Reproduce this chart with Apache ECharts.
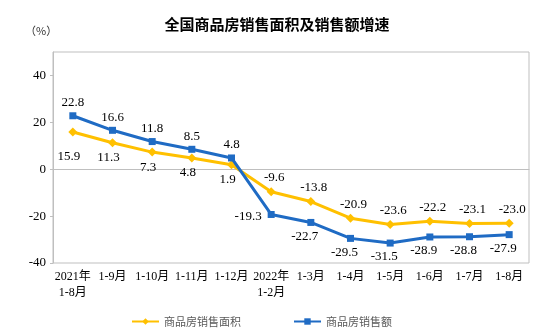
<!DOCTYPE html>
<html><head><meta charset="utf-8">
<script src="https://cdn.jsdelivr.net/npm/echarts@6/dist/echarts.min.js"></script>
<style>html,body{margin:0;padding:0;background:#fff}#c{width:554px;height:336px}</style>
</head><body><div id="c"></div>
<script>
var categories = ['2021年\n1-8月','1-9月','1-10月','1-11月','1-12月','2022年\n1-2月','1-3月','1-4月','1-5月','1-6月','1-7月','1-8月'];
var areaGrowth = [15.9, 11.3, 7.3, 4.8, 1.9, -9.6, -13.8, -20.9, -23.6, -22.2, -23.1, -23.0];
var salesGrowth = [22.8, 16.6, 11.8, 8.5, 4.8, -19.3, -22.7, -29.5, -31.5, -28.9, -28.8, -27.9];
var yTicks = [-40, -20, 0, 20, 40];
var seriesNames = ['商品房销售面积', '商品房销售额'];

var serif = '"Liberation Serif", "Noto Sans CJK SC", serif';
var labelBase = {show: true, fontFamily: serif, fontSize: 13, color: '#000', formatter: function(p){return p.value.toFixed(1);}};

var areaData = areaGrowth.map(function(v, i){
  var lbl = i < 5 ? {position: 'bottom', distance: 4, offset: [-4, i === 0 ? 10 : 0]} : {position: 'top', distance: 3, offset: [3, 0]};
  return {value: v, label: lbl};
});
var salesData = salesGrowth.map(function(v, i){
  var lbl;
  if (i < 5) lbl = {position: 'top', distance: 3};
  else if (i === 5) lbl = {position: 'left', distance: 6, offset: [0, 2]};
  else lbl = {position: 'bottom', distance: 4, offset: [-6, 0]};
  return {value: v, label: lbl};
});

var chart = echarts.init(document.getElementById('c'), null, {renderer: 'canvas'});
chart.setOption({
  animation: false,
  title: {text: '全国商品房销售面积及销售额增速', left: 'center', top: 12,
    textStyle: {fontFamily: '"Noto Sans CJK SC", sans-serif', fontSize: 15, fontWeight: 'bold', color: '#000'}},
  graphic: [{type: 'text', left: 25, top: 25, style: {text: '（%）', font: '11px "Noto Sans CJK SC", sans-serif', fill: '#333'}}],
  legend: {data: seriesNames, left: 126, top: 311, itemWidth: 27, itemHeight: 8, itemGap: 52,
    textStyle: {fontFamily: '"Noto Sans CJK SC", sans-serif', fontSize: 11, color: '#595959'}},
  grid: {left: 53, right: 25, top: 52, bottom: 73, show: true, borderColor: '#BFBFBF', borderWidth: 1},
  xAxis: {type: 'category', data: categories, boundaryGap: true,
    axisLine: {lineStyle: {color: '#BFBFBF'}},
    axisTick: {inside: true, length: 4, lineStyle: {color: '#BFBFBF'}},
    axisLabel: {interval: 0, fontFamily: serif, fontSize: 12, color: '#000', margin: 6, lineHeight: 16}},
  yAxis: {type: 'value', min: yTicks[0], max: 50, interval: 20,
    axisLine: {show: true, lineStyle: {color: '#BFBFBF'}},
    axisTick: {show: true, length: 3, lineStyle: {color: '#BFBFBF'}},
    splitLine: {show: false},
    axisLabel: {showMaxLabel: false, fontFamily: serif, fontSize: 13, color: '#000', margin: 7,
      formatter: function(v){ return yTicks.indexOf(v) >= 0 ? String(v) : ''; }}},
  series: [
    {name: seriesNames[0], type: 'line', data: areaData, symbol: 'diamond', symbolSize: 9,
      itemStyle: {color: '#FFC000'}, lineStyle: {width: 3, color: '#FFC000'}, label: labelBase, z: 2},
    {name: seriesNames[1], type: 'line', data: salesData, symbol: 'rect', symbolSize: 7,
      itemStyle: {color: '#1F6BC4'}, lineStyle: {width: 3, color: '#1F6BC4'}, label: labelBase, z: 3}
  ]
});
</script></body></html>
